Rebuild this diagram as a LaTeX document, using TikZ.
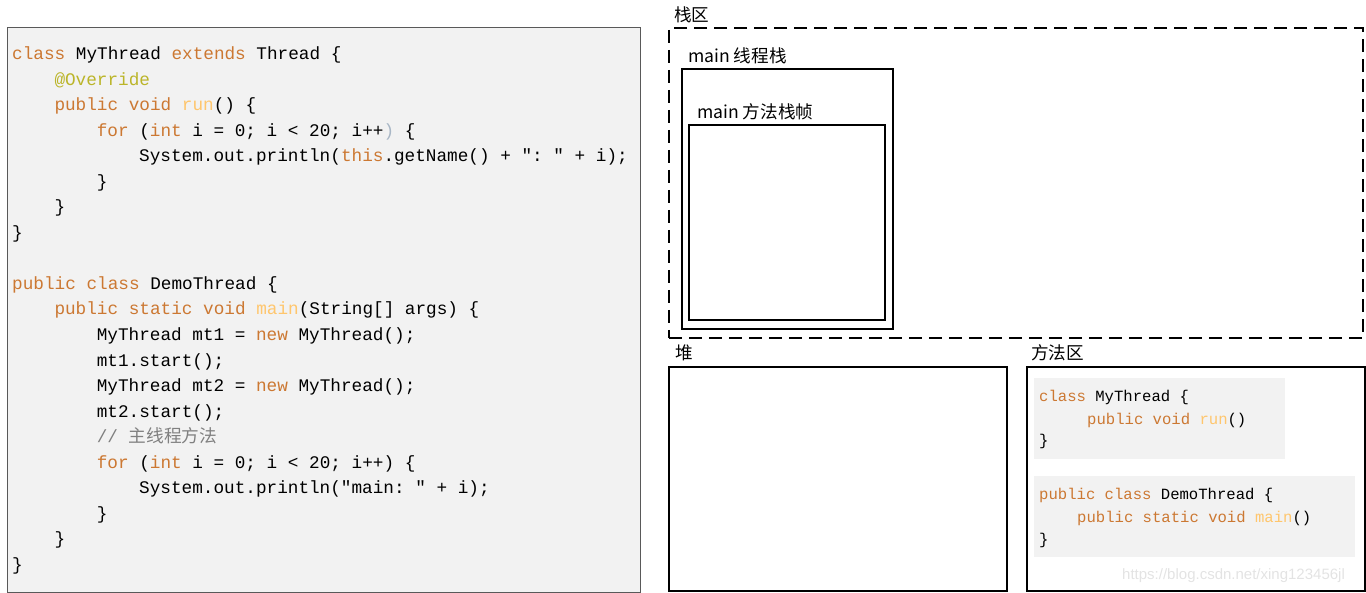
\documentclass[tikz,border=0pt]{standalone}
\usepackage{fontspec}
\setmainfont{Noto Sans CJK SC}
\setmonofont{Liberation Mono}
\newfontfamily\cjk{Noto Sans CJK SC}
\newfontfamily\webfont{Liberation Sans}
\usepackage{tikz}
\usetikzlibrary{positioning}

\definecolor{panelbg}{HTML}{F2F2F2}
\definecolor{panelline}{HTML}{595959}
\definecolor{kwc}{HTML}{CC7832}
\definecolor{fnc}{HTML}{FFC66D}
\definecolor{annc}{HTML}{BBB529}
\definecolor{cmtc}{HTML}{808080}
\definecolor{bracec}{HTML}{A9B7C6}

\newcommand\jkw[1]{\textcolor{kwc}{#1}}
\newcommand\jfn[1]{\textcolor{fnc}{#1}}

\begin{document}
\begin{tikzpicture}[x=1pt, y=-1pt,
  panel/.style={draw=panelline, fill=panelbg, line width=1.2pt, anchor=north west, inner sep=0pt},
  region/.style={draw, line width=2pt, anchor=north west, inner sep=0pt},
  stackzone/.style={draw, line width=2pt, dash pattern=on 13pt off 7pt, anchor=north west, inner sep=0pt},
  block/.style={fill=panelbg, anchor=north west, inner sep=0pt},
  lbl/.style={anchor=west, inner sep=0pt, font=\fontsize{17.6}{20}\selectfont},
  code/.style={anchor=base west, inner sep=0pt, font=\ttfamily\fontsize{17.7}{20}\selectfont},
  mcode/.style={anchor=base west, inner sep=0pt, font=\ttfamily\fontsize{15.6}{18}\selectfont}]
\useasboundingbox (0,0) rectangle (1366,593);

% source code panel
\node[panel, minimum width=633pt, minimum height=565pt] (panel) at (7,27) {};
\node[code] (l1) at (12,59.5) {\jkw{class} MyThread \jkw{extends} Thread \{};
\node[code] (l2) at (54.3,85.05) {\textcolor{annc}{@Override}};
\node[code] (l3) at (54.3,110.6) {\jkw{public void} \jfn{run}() \{};
\node[code] (l4) at (96.6,136.15) {\jkw{for} (\jkw{int} i = 0; i < 20; i++\textcolor{bracec}{)} \{};
\node[code] (l5) at (139,161.7) {System.out.println(\jkw{this}.getName() + ": " + i);};
\node[code] (l6) at (96.6,187.25) {\}};
\node[code] (l7) at (54.3,212.8) {\}};
\node[code] (l8) at (12,238.35) {\}};
\node[code] (l10) at (12,289.45) {\jkw{public class} DemoThread \{};
\node[code] (l11) at (54.3,315.0) {\jkw{public static void} \jfn{main}(String[] args) \{};
\node[code] (l12) at (96.6,340.55) {MyThread mt1 = \jkw{new} MyThread();};
\node[code] (l13) at (96.6,366.1) {mt1.start();};
\node[code] (l14) at (96.6,391.65) {MyThread mt2 = \jkw{new} MyThread();};
\node[code] (l15) at (96.6,417.2) {mt2.start();};
\node[code] (l16) at (96.6,442.75) {\textcolor{cmtc}{// {\cjk 主线程方法}}};
\node[code] (l17) at (96.6,468.3) {\jkw{for} (\jkw{int} i = 0; i < 20; i++) \{};
\node[code] (l18) at (139,493.85) {System.out.println("main: " + i);};
\node[code] (l19) at (96.6,519.4) {\}};
\node[code] (l20) at (54.3,544.95) {\}};
\node[code] (l21) at (12,570.5) {\}};

% stack area
\node[lbl] (stacklbl) at (674,15) {栈区};
\node[stackzone, minimum width=694pt, minimum height=310pt] (stack) at (668,27) {};
\node[lbl] (threadlbl) at (688,56) {main 线程栈};
\node[region, minimum width=211pt, minimum height=260pt] (thread) at (681,68) {};
\node[lbl] (framelbl) at (697,112) {main 方法栈帧};
\node[region, minimum width=196pt, minimum height=195pt] (frame) at (688,124) {};

% heap
\node[lbl] (heaplbl) at (675,353) {堆};
\node[region, minimum width=338pt, minimum height=224pt] (heap) at (668,366) {};

% method area
\node[lbl] (methlbl) at (1031,353) {方法区};
\node[region, minimum width=338pt, minimum height=224pt] (method) at (1026,366) {};
\node[block, minimum width=251pt, minimum height=81pt] (blk1) at (1034,378) {};
\node[mcode] (m1) at (1039,402) {\jkw{class} MyThread \{};
\node[mcode] (m2) at (1087,425) {\jkw{public void} \jfn{run}()};
\node[mcode] (m3) at (1039,446) {\}};
\node[block, minimum width=321pt, minimum height=81pt] (blk2) at (1034,476) {};
\node[mcode] (m4) at (1039,500) {\jkw{public class} DemoThread \{};
\node[mcode] (m5) at (1077,522) {\jkw{public static void} \jfn{main}()};
\node[mcode] (m6) at (1039,544) {\}};
\node[anchor=west, inner sep=0pt, text=gray!22, font=\webfont\fontsize{15}{18}\selectfont] (mark) at (1122,576) {https://blog.csdn.net/xing123456jl};
\end{tikzpicture}
\end{document}
